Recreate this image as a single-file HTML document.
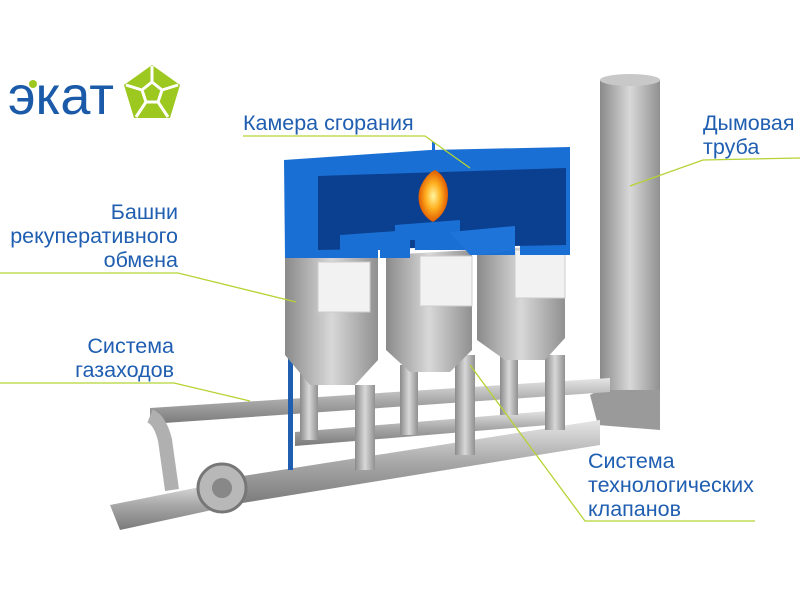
<!DOCTYPE html>
<html><head><meta charset="utf-8"><style>
body{margin:0;background:#fff;}
.t{font-family:"Liberation Sans",sans-serif;fill:#1f5eb0;font-size:21.5px;}
</style></head><body>
<svg width="800" height="600" viewBox="0 0 800 600" xmlns="http://www.w3.org/2000/svg">
<defs>
<linearGradient id="g" x1="0" x2="1"><stop offset="0" stop-color="#8a8a8a"/><stop offset=".5" stop-color="#d8d8d8"/><stop offset="1" stop-color="#909090"/></linearGradient>
<linearGradient id="gv" x1="0" y1="0" x2="0" y2="1"><stop offset="0" stop-color="#e6e6e6"/><stop offset=".5" stop-color="#a8a8a8"/><stop offset="1" stop-color="#7a7a7a"/></linearGradient>
<radialGradient id="fire"><stop offset="0" stop-color="#fff6a0"/><stop offset=".5" stop-color="#ffb020"/><stop offset="1" stop-color="#e05a00"/></radialGradient>
</defs>
<!-- logo -->
<text x="8" y="114" style="font-family:'Liberation Sans',sans-serif;font-size:54px;fill:#1a5aa8;">экат</text>
<circle cx="33" cy="84" r="4" fill="#9cc820"/>
<polygon points="152,65 180,85 170,118 134,118 124,85" fill="#9cc820"/>
<g stroke="#fff" stroke-width="3" fill="none">
<polygon points="152,82 162,90 158,102 146,102 142,90"/>
<line x1="152" y1="82" x2="152" y2="66"/><line x1="162" y1="90" x2="178" y2="85"/><line x1="158" y1="102" x2="168" y2="117"/><line x1="146" y1="102" x2="136" y2="117"/><line x1="142" y1="90" x2="126" y2="85"/>
</g>
<!-- chimney -->
<rect x="600" y="80" width="60" height="345" fill="url(#g)"/>
<ellipse cx="630" cy="80" rx="30" ry="6" fill="#c8c8c8"/>
<polygon points="590,395 600,390 660,390 660,430 598,425" fill="#9a9a9a"/>
<!-- pipes -->
<polygon points="150,408 610,378 610,392 150,424" fill="url(#gv)"/>
<path d="M150,416 Q160,420 165,440 L172,490" stroke="#b0b0b0" stroke-width="14" fill="none"/>
<polygon points="230,478 600,420 600,445 230,505" fill="url(#gv)"/>
<polygon points="110,505 235,480 235,505 120,530" fill="url(#gv)"/>
<polygon points="295,432 560,410 560,424 295,446" fill="url(#gv)"/>
<circle cx="222" cy="488" r="24" fill="#b8b8b8" stroke="#777" stroke-width="3"/>
<circle cx="222" cy="488" r="10" fill="#888"/>
<!-- vertical pipes -->
<g fill="url(#g)">
<rect x="300" y="370" width="18" height="70"/><rect x="355" y="385" width="20" height="85"/>
<rect x="400" y="365" width="18" height="70"/><rect x="455" y="355" width="20" height="100"/>
<rect x="500" y="355" width="18" height="60"/><rect x="545" y="355" width="20" height="75"/>
</g>
<rect x="288" y="340" width="5" height="130" fill="#1f5eb0"/>
<!-- towers -->
<g fill="url(#g)">
<polygon points="285,255 378,255 378,360 355,385 310,385 285,355"/>
<polygon points="386,255 472,250 472,350 450,372 410,372 386,350"/>
<polygon points="477,250 565,245 565,338 545,360 505,360 477,340"/>
</g>
<rect x="318" y="262" width="52" height="50" fill="#f2f2f2" stroke="#ccc"/>
<rect x="420" y="256" width="52" height="50" fill="#f2f2f2" stroke="#ccc"/>
<rect x="515" y="250" width="50" height="48" fill="#f2f2f2" stroke="#ccc"/>
<!-- blue chamber -->
<polygon points="284,160 430,150 570,147 570,255 520,255 520,232 450,232 450,250 425,250 425,240 378,240 378,258 285,258" fill="#1a6fd4"/>
<polygon points="318,176 566,168 566,245 318,250" fill="#0b3f8f"/>
<polygon points="340,235 410,230 410,258 380,258 380,250 340,250" fill="#1a6fd4"/>
<polygon points="395,225 460,220 460,240 515,235 515,255 470,255 470,250 415,250 415,240 395,240" fill="#1a6fd4"/>
<polygon points="450,232 515,226 515,250 480,255 470,255" fill="#1e74d8"/>
<path d="M433,222 C420,215 416,200 420,188 C424,178 430,172 435,170 C442,174 448,182 448,194 C448,208 442,216 433,222 Z" fill="url(#fire)"/>
<rect x="432" y="142" width="3" height="10" fill="#1a6fd4"/>
<!-- labels & leaders -->
<g stroke="#b5d334" stroke-width="1.3" fill="none">
<polyline points="243,136 425,136 470,168"/>
<polyline points="800,158 703,160 630,186"/>
<polyline points="0,273 178,273 296,302"/>
<polyline points="0,383 174,383 250,401"/>
<polyline points="470,365 585,521 755,521"/>
</g>
<text class="t" x="243" y="130">Камера сгорания</text>
<text class="t" x="703" y="130">Дымовая</text>
<text class="t" x="703" y="154">труба</text>
<text class="t" x="178" y="219" text-anchor="end">Башни</text>
<text class="t" x="178" y="243" text-anchor="end">рекуперативного</text>
<text class="t" x="178" y="267" text-anchor="end">обмена</text>
<text class="t" x="174" y="353" text-anchor="end">Система</text>
<text class="t" x="174" y="377" text-anchor="end">газаходов</text>
<text class="t" x="588" y="468">Система</text>
<text class="t" x="588" y="492">технологических</text>
<text class="t" x="588" y="516">клапанов</text>
</svg>
</body></html>
